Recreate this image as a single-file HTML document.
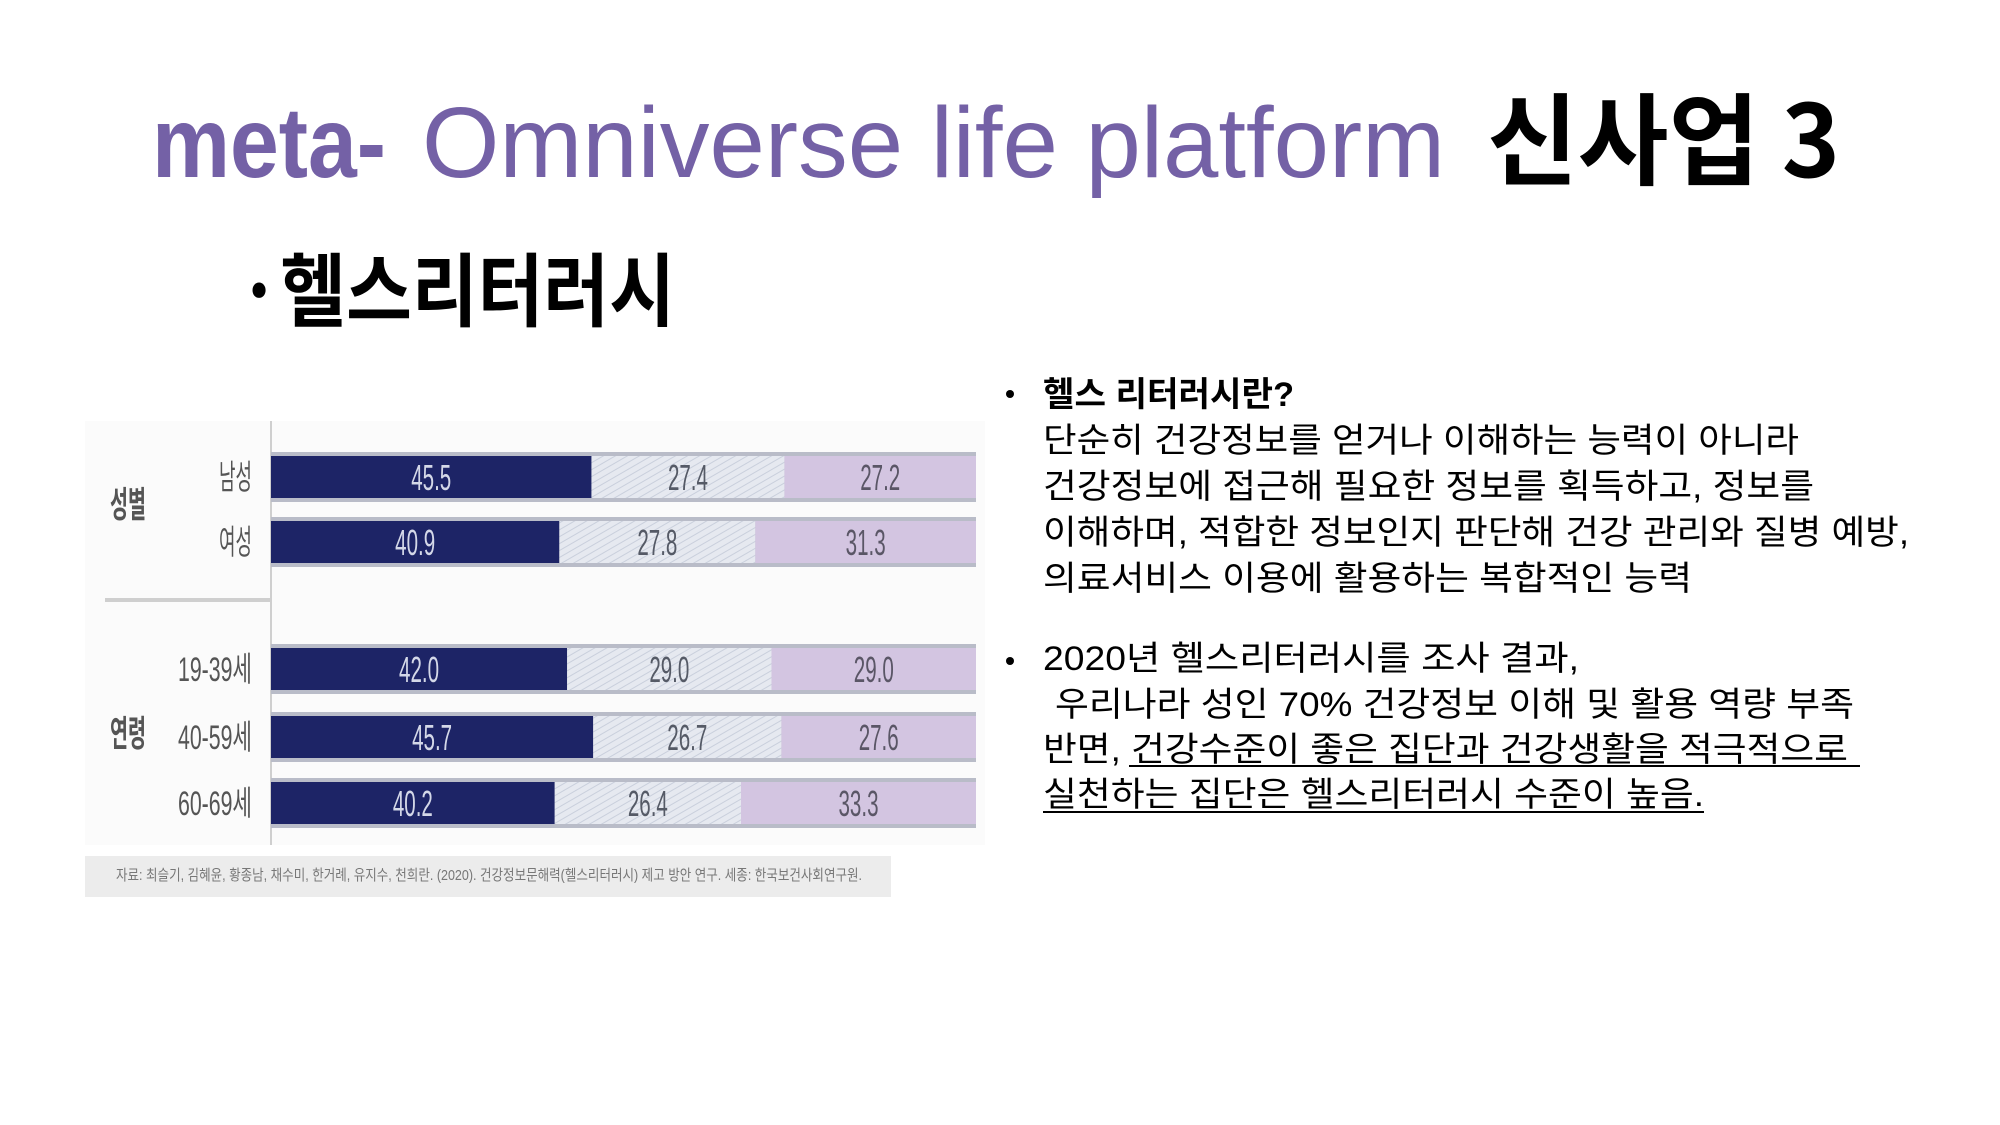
<!DOCTYPE html>
<html><head><meta charset="utf-8"><style>
html,body{margin:0;padding:0;background:#fff;}
svg{display:block;}
</style></head><body>
<svg id="page" width="2000" height="1125" viewBox="0 0 2000 1125" xmlns="http://www.w3.org/2000/svg">
<defs>
<pattern id="hatch" width="6" height="6" patternUnits="userSpaceOnUse" patternTransform="rotate(60)">
<rect width="6" height="6" fill="#e6e9f0"/><line x1="0" y1="0" x2="0" y2="6" stroke="#c9cfdc" stroke-width="2"/>
</pattern>
</defs>
<g font-family="'Liberation Sans','Noto Sans CJK KR',sans-serif">
<text x="152" y="177" font-size="100" font-weight="bold" fill="#7461a6" textLength="234" lengthAdjust="spacingAndGlyphs">meta-</text>
<text x="422" y="177" font-size="100" fill="#7461a6" textLength="1023" lengthAdjust="spacingAndGlyphs">Omniverse life platform</text>
<text x="1487" y="177" font-size="100" font-weight="bold" fill="#000" font-family="'Noto Sans CJK KR',sans-serif" textLength="353" lengthAdjust="spacingAndGlyphs">신사업 3</text>
<text x="238" y="320" font-size="80" font-weight="bold" fill="#000" font-family="'Noto Sans CJK KR',sans-serif" textLength="437" lengthAdjust="spacingAndGlyphs">·헬스리터러시</text>
</g>
<g id="chart"></g>
<g id="notes" font-family="'Liberation Sans','Noto Sans CJK KR',sans-serif" font-size="34" fill="#000">
<circle cx="1010" cy="394" r="4" fill="#000"/>
<circle cx="1010" cy="661" r="4" fill="#000"/>
<text x="1043" y="406" font-weight="bold" textLength="251" lengthAdjust="spacingAndGlyphs">헬스 리터러시란?</text>
<text x="1043" y="452" textLength="756" lengthAdjust="spacingAndGlyphs">단순히 건강정보를 얻거나 이해하는 능력이 아니라</text>
<text x="1043" y="498" textLength="771" lengthAdjust="spacingAndGlyphs">건강정보에 접근해 필요한 정보를 획득하고, 정보를</text>
<text x="1043" y="544" textLength="866" lengthAdjust="spacingAndGlyphs">이해하며, 적합한 정보인지 판단해 건강 관리와 질병 예방,</text>
<text x="1043" y="590" textLength="649" lengthAdjust="spacingAndGlyphs">의료서비스 이용에 활용하는 복합적인 능력</text>
<text x="1043" y="670" textLength="536" lengthAdjust="spacingAndGlyphs">2020년 헬스리터러시를 조사 결과,</text>
<text x="1055" y="716" textLength="799" lengthAdjust="spacingAndGlyphs">우리나라 성인 70% 건강정보 이해 및 활용 역량 부족</text>
<text x="1043" y="761" textLength="805" lengthAdjust="spacingAndGlyphs">반면, 건강수준이 좋은 집단과 건강생활을 적극적으로</text>
<rect x="1129" y="765" width="731" height="2" fill="#000"/>
<text x="1043" y="806" textLength="661" lengthAdjust="spacingAndGlyphs">실천하는 집단은 헬스리터러시 수준이 높음.</text>
<rect x="1043" y="811" width="661" height="2" fill="#000"/>
</g>
</svg>
<script>
const categories = ['남성','여성','19-39세','40-59세','60-69세'];
const seriesLow = [45.5,40.9,42.0,45.7,40.2];
const seriesMid = [27.4,27.8,29.0,26.7,26.4];
const seriesHigh = [27.2,31.3,29.0,27.6,33.3];
const groupLabels = ['성별','연령'];

const NS='http://www.w3.org/2000/svg';
const chart=document.getElementById('chart');
const x0=271, x1=976;
const xScale=v=>x0+(x1-x0)*v/100;
const rowTops=[452,517,644,712,778];
const barH=50;
function mk(tag,attrs){const e=document.createElementNS(NS,tag);for(const k in attrs)e.setAttribute(k,attrs[k]);chart.appendChild(e);return e;}

const bg=mk('rect',{x:85,y:421,width:900,height:424,fill:'#fbfbfb'});


const ax=mk('rect',{x:270,y:421,width:2,height:424,fill:'#cfcfcf'});


const sep=mk('rect',{x:105,y:598,width:166,height:4,fill:'#cfcfcf'});



const fills=['#1d2466','url(#hatch)','#d3c5e1'];
const txtCol=['#d4d8e8','#555a66','#5a5666'];
categories.forEach((c,i)=>{
  const y=rowTops[i];
  const band=mk('rect',{x:x0,y:y,width:x1-x0,height:barH,fill:'#b9bcc8'});
  
  
  const vals=[seriesLow[i],seriesMid[i],seriesHigh[i]];
  const total=vals[0]+vals[1]+vals[2];
  let acc=0;
  vals.forEach((v,s)=>{
    const a=xScale(acc/total*100), b=xScale((acc+v)/total*100);
    const r=mk('rect',{x:a,y:y+4,width:b-a,height:barH-8,fill:fills[s]});
    
    
    const t=mk('text',{x:(a+b)/2,y:y+barH/2+13,'text-anchor':'middle','font-size':36,fill:txtCol[s],'font-family':"'Liberation Sans',sans-serif",textLength:40,lengthAdjust:'spacingAndGlyphs'});
    t.textContent=v.toFixed(1);
    
    
    acc+=v;
  });
  const lw=c.length>2?74:33;
  const l=mk('text',{x:252-lw,y:y+barH/2+12,'font-size':34,fill:'#555','font-family':"'Liberation Sans','Noto Sans CJK KR',sans-serif",textLength:lw,lengthAdjust:'spacingAndGlyphs'});
  l.textContent=c;
  
  
});
[[127,517],[127,746]].forEach((p,i)=>{
  const g=mk('text',{x:110,y:p[1],'font-size':36,'font-weight':'bold',fill:'#555','font-family':"'Noto Sans CJK KR',sans-serif",textLength:36,lengthAdjust:'spacingAndGlyphs'});
  g.textContent=groupLabels[i];
  
  
});
const src=mk('rect',{x:85,y:856,width:806,height:41,fill:'#ececec'});


const st=mk('text',{x:116,y:880,'font-size':15,fill:'#777','font-family':"'Liberation Sans','Noto Sans CJK KR',sans-serif",textLength:746,lengthAdjust:'spacingAndGlyphs'});
st.textContent='자료: 최슬기, 김혜윤, 황종남, 채수미, 한거례, 유지수, 천희란. (2020). 건강정보문해력(헬스리터러시) 제고 방안 연구. 세종: 한국보건사회연구원.';


</script>
</body></html>
